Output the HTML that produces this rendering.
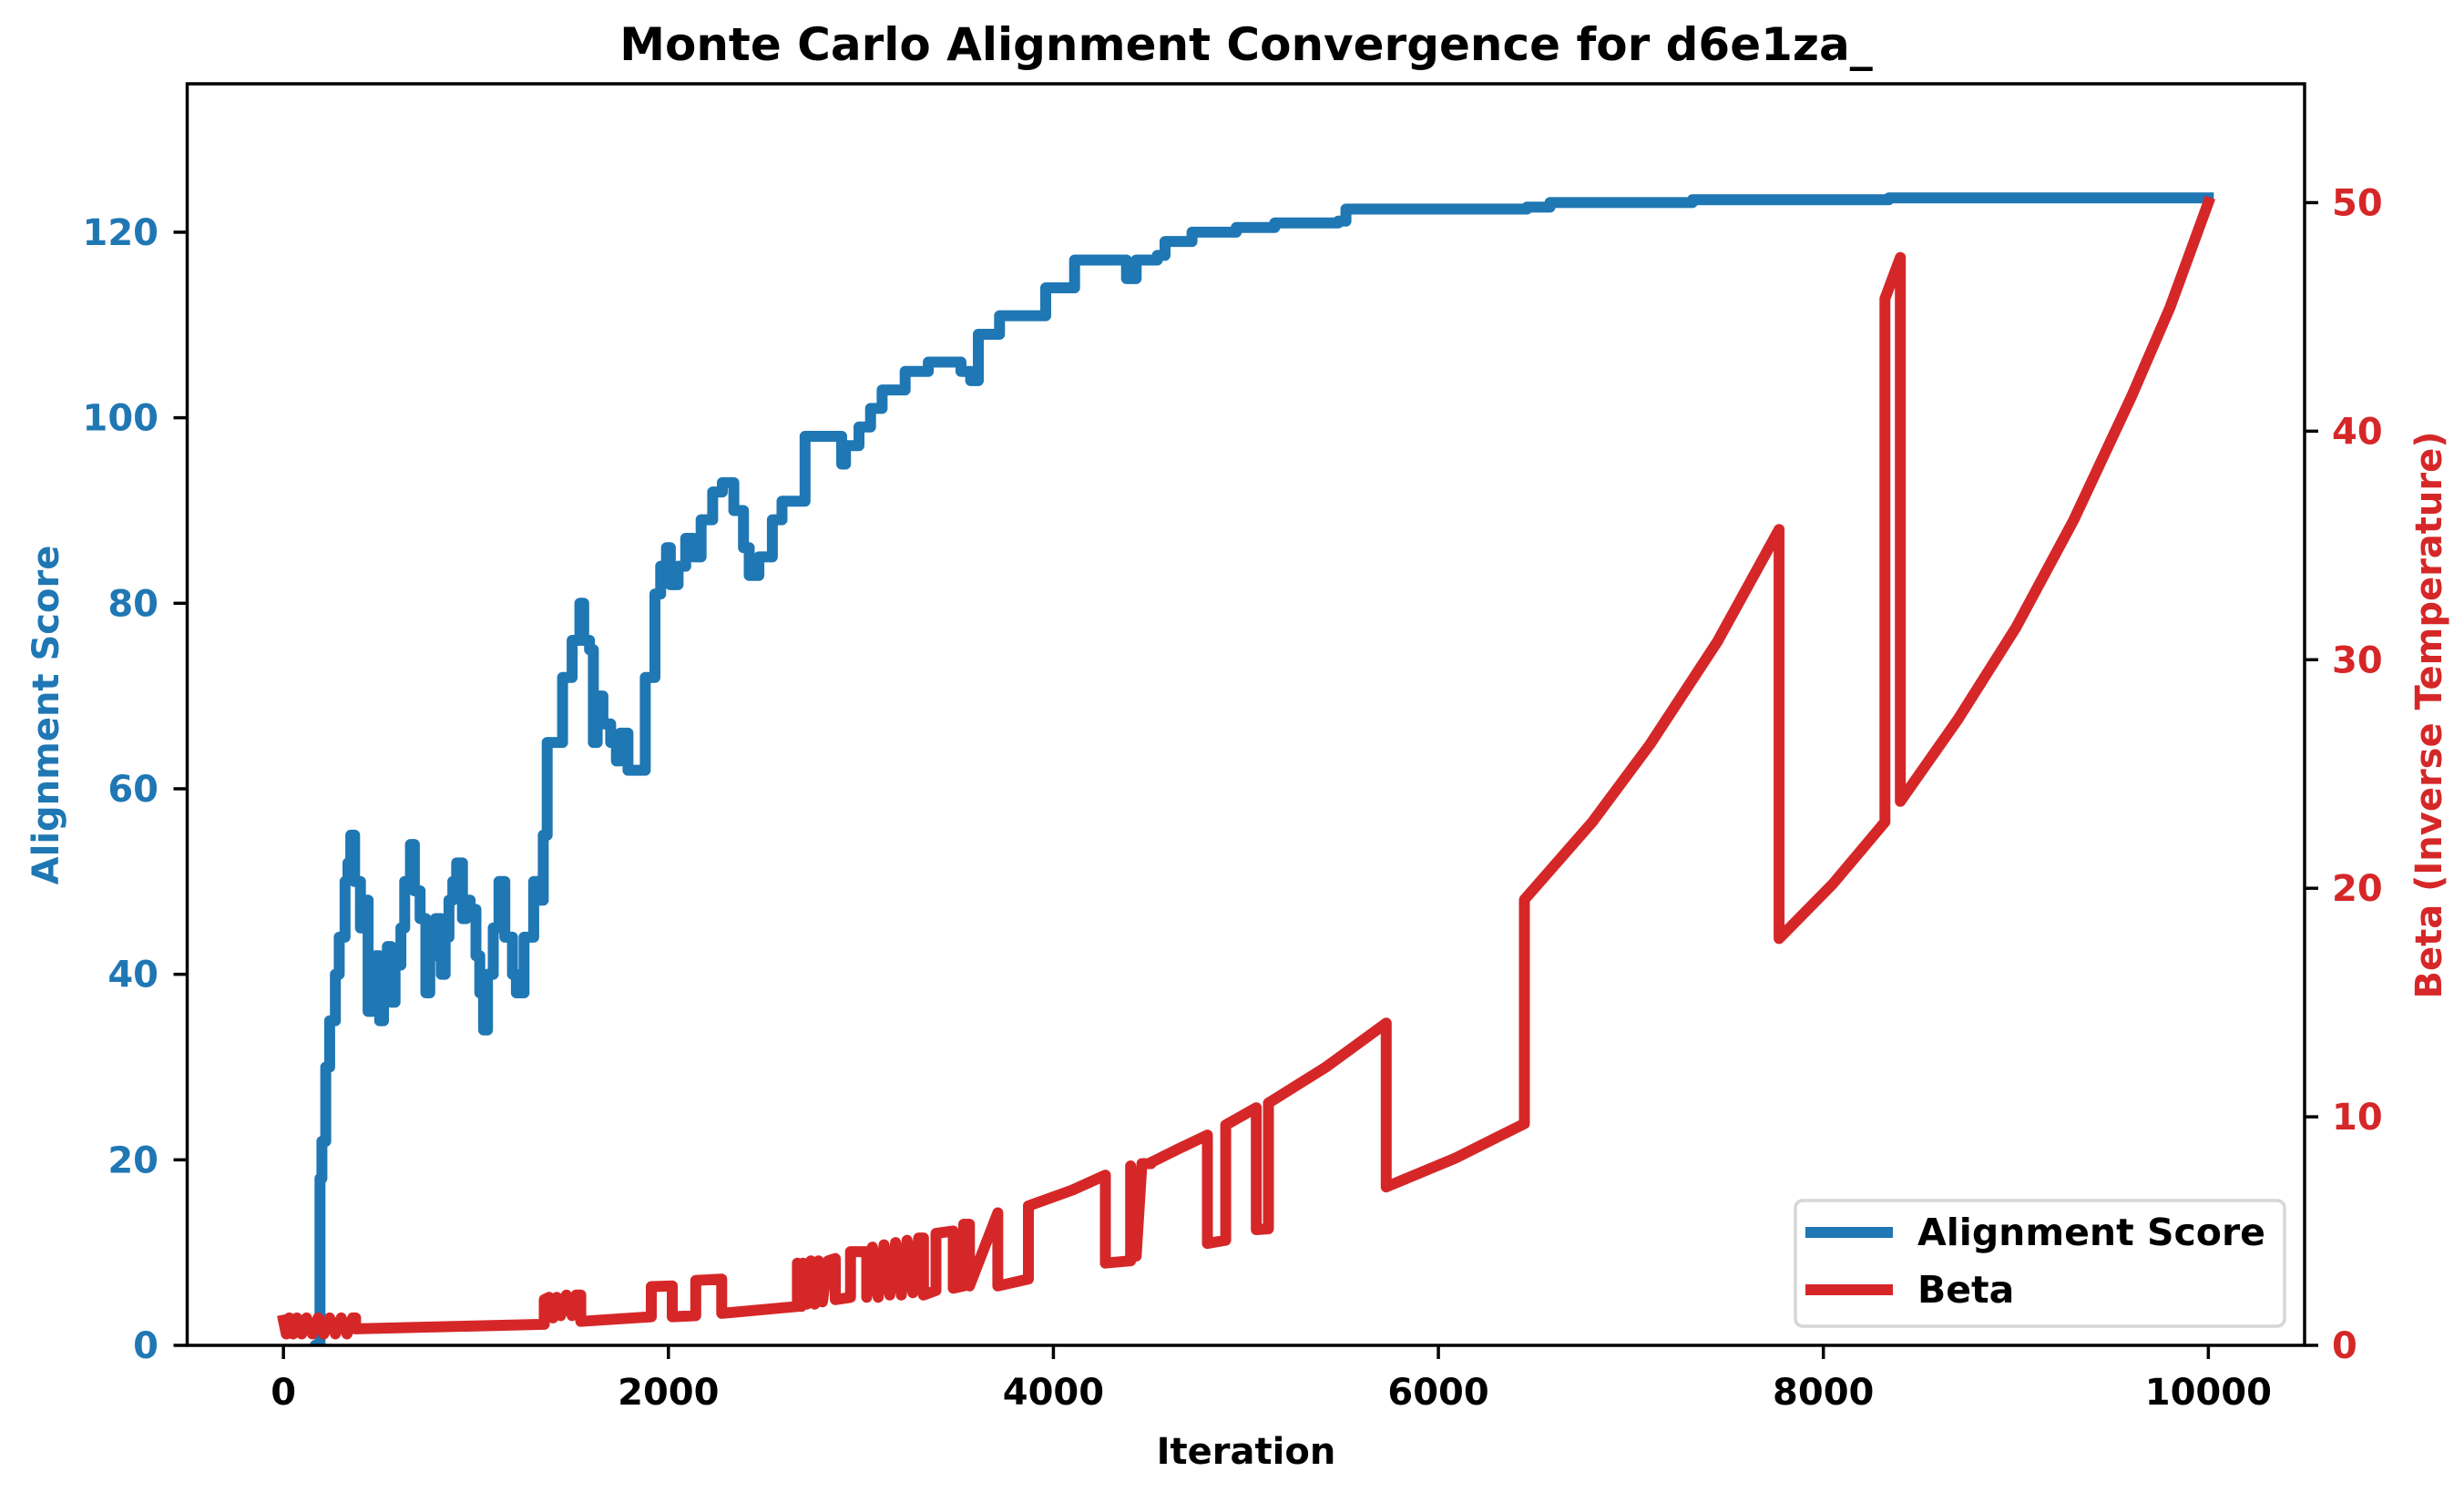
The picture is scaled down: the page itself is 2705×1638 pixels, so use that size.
<!DOCTYPE html>
<html><head><meta charset="utf-8">
<style>
html,body{margin:0;padding:0;background:#fff;}
svg{display:block;font-family:"DejaVu Sans","Liberation Sans",sans-serif;font-weight:bold;}
</style></head>
<body>
<svg id="chart" width="2705" height="1638" viewBox="0 0 2705 1638" xmlns="http://www.w3.org/2000/svg">
<rect width="2705" height="1638" fill="#fff"/>
<defs><clipPath id="plotclip"><rect x="205.5" y="92" width="2324.5" height="1385"/></clipPath></defs>
<text x="1368" y="66" text-anchor="middle" font-size="50" fill="#000">Monte Carlo Alignment Convergence for d6e1za_</text>
<g id="series" clip-path="url(#plotclip)"></g>
<g id="axes"></g>
<text x="1368" y="1607" text-anchor="middle" font-size="40" fill="#000">Iteration</text>
<text transform="translate(64,785) rotate(-90)" text-anchor="middle" font-size="40" fill="#1f77b4">Alignment Score</text>
<text transform="translate(2680,785) rotate(-90)" text-anchor="middle" font-size="40" fill="#d62728">Beta (Inverse Temperature)</text>
<g>
<rect x="1971" y="1318" width="537" height="138" rx="8" fill="#fff" fill-opacity="0.8" stroke="#d6d6d6" stroke-width="3.5"/>
<line x1="1982" y1="1353" x2="2078" y2="1353" stroke="#1f77b4" stroke-width="12"/>
<text x="2105" y="1367" font-size="41" fill="#000">Alignment Score</text>
<line x1="1982" y1="1416" x2="2078" y2="1416" stroke="#d62728" stroke-width="12"/>
<text x="2105" y="1430" font-size="41" fill="#000">Beta</text>
</g>
</svg>
<script>
const xTicks=[0,2000,4000,6000,8000,10000];
const yLeftTicks=[0,20,40,60,80,100,120];
const yRightTicks=[0,10,20,30,40,50];
const scoreIter=[150,165,190,200,220,240,270,290,320,335,350,370,400,420,440,460,480,500,520,540,560,580,610,630,660,680,710,740,760,790,820,840,860,880,900,930,950,970,1000,1020,1040,1060,1090,1120,1150,1190,1210,1250,1300,1330,1350,1370,1420,1450,1500,1540,1560,1590,1610,1630,1660,1700,1730,1750,1790,1840,1880,1930,1960,1990,2010,2050,2090,2130,2170,2230,2280,2340,2390,2420,2470,2540,2590,2660,2710,2850,2900,2920,2990,3050,3110,3230,3350,3520,3570,3610,3720,3880,3960,4070,4110,4310,4380,4430,4540,4580,4720,4950,5150,5480,5520,6460,6580,7320,8340,10000];
const scoreVals=[-2,0,18,22,30,35,40,44,50,52,55,50,45,48,36,40,42,35,40,43,37,41,45,50,54,49,46,38,42,46,40,44,48,50,52,46,48,47,42,38,34,40,45,50,44,40,38,44,50,48,55,65,65,72,76,80,76,75,65,70,67,65,63,66,62,62,72,81,84,86,82,84,87,85,89,92,93,90,86,83,85,89,91,91,98,98,95,97,99,101,103,105,106,105,104,109,111,111,114,114,117,117,115,117,117.5,119,120,120.5,121,121.2,122.5,122.7,123.2,123.5,123.7,123.7];
const betaIter=[0,15,30,50,70,95,120,150,180,210,240,270,300,330,360,375,375,1355,1355,1380,1400,1420,1440,1470,1500,1520,1545,1545,1911,1911,2020,2020,2142,2142,2277,2277,2670,2670,2690,2700,2720,2740,2760,2780,2800,2830,2867,2867,2946,2946,3030,3030,3060,3090,3120,3150,3180,3210,3240,3270,3300,3325,3325,3390,3390,3480,3480,3534,3534,3564,3564,3711,3711,3870,3870,4100,4270,4270,4401,4401,4430,4460,4507,4507,4650,4800,4800,4895,4895,5054,5054,5117,5117,5420,5729,5729,6090,6447,6447,6800,7100,7450,7770,7770,8050,8320,8320,8400,8400,8700,9000,9300,9600,9800,10000];
const betaVals=[1.1,0.5,1.2,0.5,1.2,0.5,1.2,0.5,1.2,0.5,1.2,0.5,1.2,0.5,1.2,1.2,0.72,0.92,2.0,2.1,1.2,2.1,1.3,2.2,1.3,2.2,2.2,1.05,1.25,2.57,2.6,1.25,1.3,2.84,2.9,1.4,1.7,3.6,1.7,3.6,1.8,3.7,1.8,3.7,1.9,3.7,3.8,2.0,2.1,4.1,4.1,2.1,4.3,2.1,4.4,2.2,4.5,2.2,4.6,2.3,4.7,4.7,2.2,2.4,4.9,5.0,2.5,2.6,5.3,5.3,2.6,5.8,2.6,2.9,6.1,6.8,7.45,3.6,3.7,7.85,3.9,7.95,7.95,8.0,8.6,9.2,4.46,4.6,9.64,10.4,5.06,5.1,10.6,12.2,14.1,6.93,8.2,9.7,19.5,22.9,26.3,30.8,35.7,17.8,20.2,22.9,45.8,47.6,23.8,27.4,31.4,36.1,41.5,45.4,50];

const NS='http://www.w3.org/2000/svg';
const L=205.5,R=2530,T=92,B=1477;
function xs(v){return L+(v+500)/11000*(R-L);}
function yl(v){return B-v/136*(B-T);}
function yr(v){return B-v/55.2*(B-T);}
function mk(tag,attrs,parent){const e=document.createElementNS(NS,tag);for(const k in attrs)e.setAttribute(k,attrs[k]);parent.appendChild(e);return e;}
const series=document.getElementById('series');
const axes=document.getElementById('axes');

let d='';
scoreIter.forEach((it,i)=>{
  const x=xs(it).toFixed(1), y=yl(scoreVals[i]).toFixed(1);
  if(i===0){d+='M'+x+' '+y;}
  else{d+='L'+x+' '+yl(scoreVals[i-1]).toFixed(1)+'L'+x+' '+y;}
});
const p1=mk('path',{d:d,fill:'none',stroke:'#1f77b4','stroke-width':12,'stroke-linejoin':'round','stroke-linecap':'square'},series);



d='';
betaIter.forEach((it,i)=>{d+=(i?'L':'M')+xs(it).toFixed(1)+' '+yr(betaVals[i]).toFixed(1);});
const p2=mk('path',{d:d,fill:'none',stroke:'#d62728','stroke-width':12,'stroke-linejoin':'round','stroke-linecap':'square'},series);



const frame=mk('rect',{x:L,y:T,width:R-L,height:B-T,fill:'none',stroke:'#000','stroke-width':3.5},axes);



xTicks.forEach(v=>{
  const x=xs(v);
  const t=mk('line',{x1:x,y1:B,x2:x,y2:B+15,stroke:'#000','stroke-width':3.5},axes);
  
  
  const lb=mk('text',{x:x,y:1542,'text-anchor':'middle','font-size':40,fill:'#000'},axes);
  
  
  lb.textContent=v;
});
yLeftTicks.forEach(v=>{
  const y=yl(v);
  const t=mk('line',{x1:L-15,y1:y,x2:L,y2:y,stroke:'#000','stroke-width':3.5},axes);
  
  
  const lb=mk('text',{x:174,y:y+14,'text-anchor':'end','font-size':40,fill:'#1f77b4'},axes);
  
  
  lb.textContent=v;
});
yRightTicks.forEach(v=>{
  const y=yr(v);
  const t=mk('line',{x1:R,y1:y,x2:R+15,y2:y,stroke:'#000','stroke-width':3.5},axes);
  
  
  const lb=mk('text',{x:2560,y:y+14,'text-anchor':'start','font-size':40,fill:'#d62728'},axes);
  
  
  lb.textContent=v;
});
</script>
</body></html>
